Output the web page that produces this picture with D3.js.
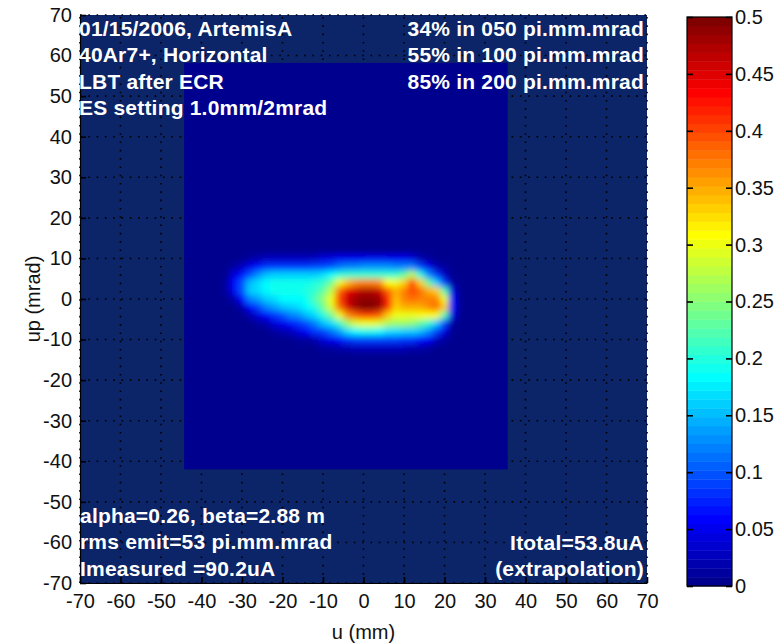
<!DOCTYPE html>
<html lang="en">
<head>
  <meta charset="UTF-8">
  <title>Emittance</title>
  <style>
    body { margin: 0; background: #fff; }
    text { font-family: "Liberation Sans", Arial, sans-serif; }
  </style>
</head>
<body>
<svg id="svg" width="776" height="643"></svg>
<script src="https://cdn.jsdelivr.net/npm/d3@7"></script>
<script>
// cell centres of the measured density (u in mm, up in mrad), 2 x 2 cells
const uCenters = [-34, -32, -30, -28, -26, -24, -22, -20, -18, -16, -14, -12, -10, -8, -6,
                  -4, -2, 0, 2, 4, 6, 8, 10, 12, 14, 16, 18, 20, 22, 24];
const upCenters = [12, 10, 8, 6, 4, 2, 0, -2, -4, -6, -8, -10, -12, -14];

// density, one row per upCenters entry
const density = [
  [0,0,0,0,0,0,0,0,0,0,0,0,0,0,0,0,0,0,0,0,0,0,0,0,0,0,0,0,0,0],
  [0,0,0,.01,.02,.03,.03,.03,.03,.03,.03,.03,.04,.04,.05,.05,.05,.05,.05,.05,.05,.05,.05,.04,.02,.01,0,0,0,0],
  [0,.01,.03,.05,.07,.08,.08,.08,.08,.08,.08,.09,.09,.10,.11,.12,.12,.13,.13,.13,.13,.12,.12,.12,.09,.05,.02,.01,0,0],
  [0,.04,.07,.10,.13,.15,.16,.16,.16,.16,.16,.16,.17,.18,.20,.21,.21,.21,.21,.21,.21,.21,.23,.28,.20,.13,.08,.03,0,0],
  [.01,.06,.10,.15,.17,.18,.19,.19,.19,.19,.19,.20,.21,.24,.30,.34,.36,.37,.37,.36,.31,.30,.33,.40,.33,.24,.16,.08,.01,0],
  [.01,.05,.10,.16,.17,.18,.19,.19,.19,.19,.20,.21,.23,.28,.38,.44,.46,.47,.47,.46,.39,.35,.37,.40,.38,.35,.33,.22,.04,0],
  [0,.02,.06,.12,.14,.16,.17,.18,.18,.18,.19,.22,.25,.30,.40,.46,.48,.49,.49,.48,.42,.34,.37,.38,.37,.37,.37,.30,.06,0],
  [0,0,.02,.06,.09,.12,.14,.15,.16,.17,.18,.20,.24,.29,.38,.45,.48,.50,.50,.48,.41,.33,.35,.35,.35,.36,.38,.33,.07,0],
  [0,0,0,.02,.04,.06,.08,.10,.12,.13,.15,.17,.20,.24,.30,.36,.39,.40,.40,.39,.33,.30,.30,.30,.31,.31,.31,.22,.04,0],
  [0,0,0,0,.01,.02,.04,.05,.07,.08,.10,.12,.15,.17,.21,.26,.29,.30,.30,.29,.27,.26,.26,.25,.23,.21,.16,.09,.01,0],
  [0,0,0,0,0,0,.01,.02,.03,.04,.06,.08,.09,.11,.14,.17,.18,.19,.19,.18,.17,.17,.16,.16,.15,.13,.09,.04,0,0],
  [0,0,0,0,0,0,0,0,0,.01,.01,.02,.04,.05,.07,.08,.09,.09,.09,.09,.09,.09,.08,.08,.07,.06,.03,.01,0,0],
  [0,0,0,0,0,0,0,0,0,0,0,0,.01,.01,.02,.02,.03,.03,.03,.03,.03,.03,.03,.02,.02,.01,0,0,0,0],
  [0,0,0,0,0,0,0,0,0,0,0,0,0,0,0,0,0,0,0,0,0,0,0,0,0,0,0,0,0,0]
];

// extent of the scanned area
const measuredU = [-44.3, 35.6];
const measuredUp = [-42, 58.2];

const axisTicks = [-70, -60, -50, -40, -30, -20, -10, 0, 10, 20, 30, 40, 50, 60, 70];
const cbarTicks = [0, 0.05, 0.1, 0.15, 0.2, 0.25, 0.3, 0.35, 0.4, 0.45, 0.5];

const notesTopLeft = ['01/15/2006, ArtemisA', '40Ar7+, Horizontal', 'LBT after ECR', 'ES setting 1.0mm/2mrad'];
const notesTopRight = ['34% in 050 pi.mm.mrad', '55% in 100 pi.mm.mrad', '85% in 200 pi.mm.mrad'];
const notesBottomLeft = ['alpha=0.26, beta=2.88 m', 'rms emit=53 pi.mm.mrad', 'Imeasured =90.2uA'];
const notesBottomRight = ['Itotal=53.8uA', '(extrapolation)'];

const svg = d3.select('#svg');

const x = d3.scaleLinear().domain([-70, 70]).range([80, 647]);
const y = d3.scaleLinear().domain([-70, 70]).range([583, 15]);
const cy = d3.scaleLinear().domain([0, 0.5]).range([586, 17]);

// matlab jet, 64 levels
const jetT = d3.scaleLinear()
  .domain([0, 7/63, 23/63, 39/63, 55/63, 1])
  .range(['#00008f', '#0000ff', '#00ffff', '#ffff00', '#ff0000', '#800000']);
const level = v => Math.max(0, Math.min(63, Math.floor(v / 0.5 * 64)));
const color = v => jetT(level(v) / 63);

const defs = svg.append('defs');
defs.append('filter').attr('id', 'smooth')
  .attr('x', '-10%').attr('y', '-10%').attr('width', '120%').attr('height', '120%')
  .append('feGaussianBlur').attr('stdDeviation', 3.2);

// axes background
svg.append('rect')
  .attr('x', x(-70)).attr('y', y(70))
  .attr('width', x(70) - x(-70)).attr('height', y(-70) - y(70))
  .attr('fill', '#0c2468');

// dotted grid
const grid = svg.append('g')
  .attr('stroke', '#000').attr('stroke-width', 1.6).attr('stroke-dasharray', '1.6,6.7');
grid.selectAll('.gv').data(axisTicks).enter().append('line')
  .attr('x1', d => x(d)).attr('x2', d => x(d))
  .attr('y1', y(-70)).attr('y2', y(70));
grid.selectAll('.gh').data(axisTicks).enter().append('line')
  .attr('y1', d => y(d)).attr('y2', d => y(d))
  .attr('x1', x(-70)).attr('x2', x(70));

// measured area
svg.append('rect')
  .attr('x', x(measuredU[0])).attr('y', y(measuredUp[1]))
  .attr('width', x(measuredU[1]) - x(measuredU[0]))
  .attr('height', y(measuredUp[0]) - y(measuredUp[1]))
  .attr('fill', color(0));

const cells = [];
density.forEach((row, i) => row.forEach((v, j) => cells.push({ u: uCenters[j], up: upCenters[i], v })));

svg.append('g').attr('filter', 'url(#smooth)')
  .selectAll('rect').data(cells).enter().append('rect')
  .attr('x', d => x(d.u - 1))
  .attr('y', d => y(d.up + 1))
  .attr('width', d => x(d.u + 1) - x(d.u - 1) + 0.5)
  .attr('height', d => y(d.up - 1) - y(d.up + 1) + 0.5)
  .attr('fill', d => color(d.v));

// axes (plain hyphen minus like the original)
const plain = d => String(d);
const xAxis = svg.append('g').attr('transform', `translate(0,${y(-70)})`)
  .call(d3.axisBottom(x).tickValues(axisTicks).tickFormat(plain).tickSize(-6).tickSizeOuter(0).tickPadding(11));
const yAxis = svg.append('g').attr('transform', `translate(${x(-70)},0)`)
  .call(d3.axisLeft(y).tickValues(axisTicks).tickFormat(plain).tickSize(-6).tickSizeOuter(0).tickPadding(8));
[xAxis, yAxis].forEach(a => {
  a.selectAll('line').attr('stroke', '#000').attr('stroke-width', 1.6);
  a.select('.domain').attr('stroke', '#000').attr('stroke-width', 1.2);
  a.selectAll('text').attr('font-size', 20).attr('fill', '#111')
    .style('font-family', '"Liberation Sans", Arial, sans-serif');
});

svg.append('text').attr('x', (x(-70) + x(70)) / 2).attr('y', 639)
  .attr('text-anchor', 'middle').attr('font-size', 20).attr('fill', '#111').text('u (mm)');
svg.append('text').attr('transform', `translate(33,${(y(-70) + y(70)) / 2}) rotate(-90)`)
  .attr('text-anchor', 'middle').attr('dy', '0.35em')
  .attr('font-size', 20).attr('fill', '#111').text('up (mrad)');

// annotations
function notes(lines, xPos, yFirst, anchor) {
  svg.append('g').selectAll('text').data(lines).enter().append('text')
    .attr('x', xPos).attr('y', (d, i) => yFirst + i * 26.4)
    .attr('text-anchor', anchor)
    .attr('font-size', 21).attr('font-weight', 'bold').attr('letter-spacing', 0.2)
    .attr('fill', '#fff').text(d => d);
}
notes(notesTopLeft, 79, 36, 'start');
notes(notesTopRight, 644, 36, 'end');
notes(notesBottomLeft, 80, 523, 'start');
notes(notesBottomRight, 644, 550, 'end');

// colorbar
const cbX0 = 687, cbX1 = 732;
const bands = d3.range(64);
svg.append('g').selectAll('rect').data(bands).enter().append('rect')
  .attr('x', cbX0).attr('width', cbX1 - cbX0)
  .attr('y', k => cy((k + 1) / 64 * 0.5))
  .attr('height', k => cy(k / 64 * 0.5) - cy((k + 1) / 64 * 0.5) + 0.4)
  .attr('fill', k => jetT(k / 63));
svg.append('rect').attr('x', cbX0).attr('y', cy(0.5))
  .attr('width', cbX1 - cbX0).attr('height', cy(0) - cy(0.5))
  .attr('fill', 'none').attr('stroke', '#000').attr('stroke-width', 1.2);

const fmt = d => String(+d.toFixed(2));
const cbR = svg.append('g').attr('transform', `translate(${cbX1},0)`)
  .call(d3.axisRight(cy).tickValues(cbarTicks).tickFormat(fmt).tickSize(-6).tickSizeOuter(0).tickPadding(3));
const cbL = svg.append('g').attr('transform', `translate(${cbX0},0)`)
  .call(d3.axisLeft(cy).tickValues(cbarTicks).tickFormat('').tickSize(-6).tickSizeOuter(0));
[cbR, cbL].forEach(a => {
  a.select('.domain').remove();
  a.selectAll('line').attr('stroke', '#000').attr('stroke-width', 1.6);
  a.selectAll('text').attr('font-size', 20).attr('fill', '#111')
    .style('font-family', '"Liberation Sans", Arial, sans-serif');
});
</script>
</body>
</html>
